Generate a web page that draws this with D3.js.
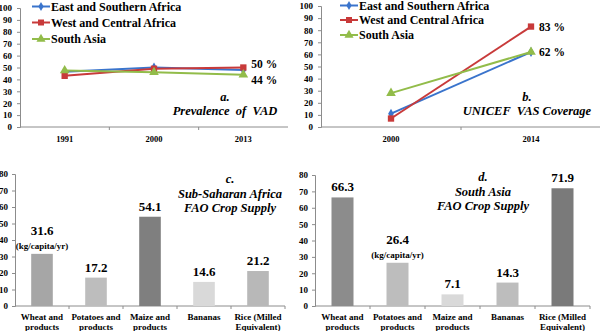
<!DOCTYPE html>
<html>
<head>
<meta charset="utf-8">
<script src="https://cdn.jsdelivr.net/npm/d3@7"></script>
<style>
  body { margin: 0; background: #fff; }
  .axis path, .axis line { stroke: #8c8c8c; }
</style>
</head>
<body>
<div id="chart"></div>
<script>
// ---- data ----
const seriesNames = ["East and Southern Africa", "West and Central Africa", "South Asia"];
const seriesColors = ["#3a74cc", "#c83a3a", "#92bc4a"];
const seriesShapes = [d3.symbolDiamond, d3.symbolSquare, d3.symbolTriangle];

const vadYears = ["1991", "2000", "2013"];
const vadESA = [46.5, 50, 48];
const vadWCA = [43, 49, 50];
const vadSA = [47.5, 46, 44];

const vasYears = ["2000", "2014"];
const vasESA = [11, 62];
const vasWCA = [7, 83];
const vasSA = [28, 62];

const crops = [["Wheat and", "products"], ["Potatoes and", "products"], ["Maize and", "products"], ["Bananas"], ["Rice (Milled", "Equivalent)"]];
const ssaSupply = [31.6, 17.2, 54.1, 14.6, 21.2];
const ssaColors = ["#a6a6a6", "#bdbdbd", "#7f7f7f", "#d9d9d9", "#b8b8b8"];
const saSupply = [66.3, 26.4, 7.1, 14.3, 71.9];
const saColors = ["#8c8c8c", "#bdbdbd", "#d9d9d9", "#bdbdbd", "#7a7a7a"];

const svg = d3.select("#chart")
    .append("svg")
    .attr("width", 600)
    .attr("height", 331);


// Line panel (a, b)
function linePanel(opts) {
    const g = svg.append("g");
    const x = d3.scalePoint().domain(opts.years).range(opts.xRange).padding(0.5);
    const xBand = d3.scaleBand().domain(opts.years).range(opts.xRange);
    const y = d3.scaleLinear().domain([0, 100]).range(opts.yRange);

    g.append("g")
        .attr("class", "axis")
        .attr("transform", `translate(${opts.xRange[0]},0)`)
        .call(d3.axisLeft(y).tickValues(d3.range(0, 101, 10)).tickSize(3).tickPadding(5))
        .call(a => a.selectAll("text").attr("font-size", 9));

    g.append("g")
        .attr("class", "axis")
        .attr("transform", `translate(0,${opts.yRange[0]})`)
        .call(d3.axisBottom(xBand).tickSize(0).tickPadding(9))
        .call(a => a.selectAll("text").attr("font-size", 8.5))
        .call(a => a.select(".domain").attr("d", `M${opts.xRange[0]},0H${opts.xRange[1]}`));

    // band boundary ticks
    g.selectAll(".btick")
        .data(opts.years.slice(1))
        .enter()
        .append("line")
        .attr("x1", d => xBand(d))
        .attr("x2", d => xBand(d))
        .attr("y1", opts.yRange[0])
        .attr("y2", opts.yRange[0] + 3)
        .attr("stroke", "#8c8c8c");

    const line = d3.line().x((d, i) => x(opts.years[i])).y(d => y(d));

    opts.series.forEach((vals, s) => {
        g.append("path")
            .attr("d", line(vals))
            .attr("fill", "none")
            .attr("stroke", seriesColors[s])
            .attr("stroke-width", 2);
    });
    opts.series.forEach((vals, s) => {
        g.selectAll(null)
            .data(vals)
            .enter()
            .append("path")
            .attr("transform", (d, i) => `translate(${x(opts.years[i])},${y(d)})`)
            .attr("d", d3.symbol().type(seriesShapes[s]).size(s === 0 ? 28 : 40))
            .attr("fill", seriesColors[s]);
    });

    // legend
    seriesNames.forEach((name, s) => {
        const ly = opts.legendY[s];
        g.append("line")
            .attr("x1", opts.legendX)
            .attr("x2", opts.legendX + 18)
            .attr("y1", ly)
            .attr("y2", ly)
            .attr("stroke", seriesColors[s])
            .attr("stroke-width", 2);
        g.append("path")
            .attr("transform", `translate(${opts.legendX + 9},${ly})`)
            .attr("d", d3.symbol().type(seriesShapes[s]).size(s === 0 ? 24 : 36))
            .attr("fill", seriesColors[s]);
        g.append("text")
            .attr("x", opts.legendX + 19)
            .attr("y", ly + 4)
            .attr("font-size", 12)
            .text(name);
    });

    // end labels
    opts.endLabels.forEach(l => {
        g.append("text")
            .attr("x", x(opts.years[opts.years.length - 1]) + 8)
            .attr("y", y(l.value) + 4 + l.dy)
            .attr("font-size", 11.5)
            .text(`${l.value} %`);
    });

    g.selectAll(".ttl")
        .data(opts.title)
        .enter()
        .append("text")
        .attr("x", opts.titleX)
        .attr("y", (d, i) => opts.titleY + i * 14)
        .attr("text-anchor", "middle")
        .attr("font-size", 12.5)
        .attr("font-style", "italic")
        .style("white-space", "pre")
        .text(d => d);
}

linePanel({
    years: vadYears,
    series: [vadESA, vadWCA, vadSA],
    xRange: [20, 288],
    yRange: [127, 8],
    legendX: 32,
    legendY: [6.5, 22.5, 39],
    endLabels: [{ value: 50, dy: -4 }, { value: 44, dy: 5 }],
    title: ["a.", "Prevalence  of  VAD"],
    titleX: 225,
    titleY: 101
});

linePanel({
    years: vasYears,
    series: [vasESA, vasWCA, vasSA],
    xRange: [321, 601],
    yRange: [127, 6],
    legendX: 340,
    legendY: [5.5, 20, 35],
    endLabels: [{ value: 83, dy: 0 }, { value: 62, dy: 0 }],
    title: ["b.", "UNICEF  VAS Coverage"],
    titleX: 527,
    titleY: 101
});


// Bar panel (c, d)
function barPanel(opts) {
    const g = svg.append("g");
    const names = crops.map(c => c.join(" "));
    const x = d3.scaleBand().domain(names).range(opts.xRange).paddingInner(0.6).paddingOuter(0.3);
    const xb = d3.scaleBand().domain(names).range(opts.xRange);
    const y = d3.scaleLinear().domain([0, 80]).range(opts.yRange);

    g.append("g")
        .attr("class", "axis")
        .attr("transform", `translate(${opts.xRange[0]},0)`)
        .call(d3.axisLeft(y).tickValues(d3.range(0, 81, 10)).tickSize(3).tickPadding(4))
        .call(a => a.selectAll("text").attr("font-size", 9));

    g.append("line")
        .attr("x1", opts.xRange[0])
        .attr("x2", opts.xRange[1])
        .attr("y1", opts.yRange[0])
        .attr("y2", opts.yRange[0])
        .attr("stroke", "#8c8c8c");

    g.selectAll(".btick")
        .data(names.slice(1).concat([null]))
        .enter()
        .append("line")
        .attr("x1", d => d ? xb(d) : opts.xRange[1])
        .attr("x2", d => d ? xb(d) : opts.xRange[1])
        .attr("y1", opts.yRange[0])
        .attr("y2", opts.yRange[0] + 3)
        .attr("stroke", "#8c8c8c");

    g.selectAll("rect")
        .data(opts.values)
        .enter()
        .append("rect")
        .attr("x", (d, i) => x(names[i]))
        .attr("width", x.bandwidth())
        .attr("y", d => y(d))
        .attr("height", d => y(0) - y(d))
        .attr("fill", (d, i) => opts.colors[i]);

    g.selectAll(".val")
        .data(opts.values)
        .enter()
        .append("text")
        .attr("x", (d, i) => x(names[i]) + x.bandwidth() / 2)
        .attr("y", (d, i) => y(d) - (i === opts.unitIndex ? 19 : 6))
        .attr("text-anchor", "middle")
        .attr("font-size", 13)
        .text(d => d3.format(".1f")(d));

    g.append("text")
        .attr("x", x(names[opts.unitIndex]) + x.bandwidth() / 2)
        .attr("y", y(opts.values[opts.unitIndex]) - 5)
        .attr("text-anchor", "middle")
        .attr("font-size", 9)
        .text("(kg/capita/yr)");

    crops.forEach((lines, i) => {
        const t = g.append("text")
            .attr("text-anchor", "middle")
            .attr("font-size", 9);
        lines.forEach((l, k) => {
            t.append("tspan")
                .attr("x", xb(names[i]) + xb.bandwidth() / 2)
                .attr("y", opts.yRange[0] + 14 + k * 10)
                .text(l);
        });
    });

    g.selectAll(".ttl")
        .data(opts.title)
        .enter()
        .append("text")
        .attr("x", opts.titleX)
        .attr("y", (d, i) => opts.titleY + i * 14.5)
        .attr("text-anchor", "middle")
        .attr("font-size", 12.5)
        .attr("font-style", "italic")
        .text(d => d);
}

barPanel({
    values: ssaSupply,
    colors: ssaColors,
    unitIndex: 0,
    xRange: [15, 285],
    yRange: [306, 174],
    title: ["c.", "Sub-Saharan Africa", "FAO Crop Supply"],
    titleX: 230,
    titleY: 183
});

barPanel({
    values: saSupply,
    colors: saColors,
    unitIndex: 1,
    xRange: [315, 590],
    yRange: [306, 175],
    title: ["d.", "South Asia", "FAO Crop Supply"],
    titleX: 483,
    titleY: 181
});

// one font for every label
svg.selectAll("text")
    .attr("font-family", "Liberation Serif")
    .attr("font-weight", "bold")
    .attr("fill", "#000");
</script>
</body>
</html>
